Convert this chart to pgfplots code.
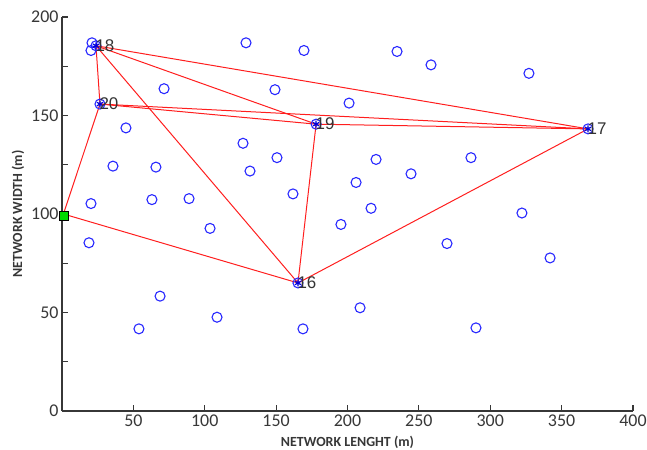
\documentclass[border=0pt]{standalone}
\usepackage{pgfplots}
\pgfplotsset{compat=1.18}
\usepackage{fontspec}
\setmainfont{Carlito}
\newfontfamily\arialfont{Liberation Sans}
\definecolor{axgray}{RGB}{55,55,55}
\definecolor{mblue}{RGB}{40,40,255}
\definecolor{lred}{RGB}{255,30,30}
\begin{document}
\begin{tikzpicture}
\useasboundingbox (-62bp,-39bp) rectangle (585bp,411bp);
\begin{axis}[
  at={(0,0)}, anchor=south west,
  width=571bp, height=394bp, scale only axis,
  xmin=0, xmax=400, ymin=0, ymax=200,
  axis lines*=left,
  axis line style={axgray, line width=1.3bp},
  every tick/.style={axgray, line width=1.1bp},
  tick align=inside,
  major tick length=6bp, minor tick length=6bp,
  xtick={50,100,...,400},
  ytick={0,50,...,200},
  minor ytick={25,75,125,175},
  /pgf/number format/assume math mode=true,
  ticklabel style={font=\fontsize{18}{20}\selectfont, text=axgray},
  xlabel={NETWORK LENGHT (m)},
  ylabel={NETWORK WIDTH (m)},
  label style={font=\fontsize{14}{16}\selectfont\bfseries, text=axgray},
  xlabel style={at={(axis description cs:0.5,-0.079)}, anchor=center},
  ylabel style={at={(axis description cs:-0.077,0.5)}, anchor=center},
  clip=false,
]
% ordinary sensor nodes
\addplot[only marks, mark=o, mark size=5bp, mblue, mark options={line width=1.1bp}] table {
x y
21.0 186.9
20.3 183.0
128.9 186.9
169.5 183.0
71.5 163.6
149.2 163.1
44.8 143.7
126.8 135.9
150.6 128.6
35.7 124.3
65.8 123.8
131.7 121.8
20.3 105.3
63.0 107.3
89.0 107.8
161.8 110.2
234.7 182.5
258.5 175.7
327.1 171.4
201.1 156.3
220.0 127.7
286.5 128.6
244.5 120.4
206.0 116.0
216.5 102.9
322.2 100.5
195.4 94.7
18.9 85.4
103.7 92.7
68.7 58.3
53.9 41.7
108.6 47.6
168.8 41.7
269.7 85.0
341.9 77.7
208.8 52.4
290.0 42.2
23.8 185.4
26.6 155.8
178.0 145.6
368.5 143.2
165.3 65.0
};
% links
\addplot[lred, line width=1bp] coordinates {(1,100) (26.6,155.8)};
\addplot[lred, line width=1bp] coordinates {(1,100) (165.3,65.0)};
\addplot[lred, line width=1bp] coordinates {(26.6,155.8) (23.8,185.4)};
\addplot[lred, line width=1bp] coordinates {(23.8,185.4) (368.5,143.2)};
\addplot[lred, line width=1bp] coordinates {(23.8,185.4) (178.0,145.6)};
\addplot[lred, line width=1bp] coordinates {(23.8,185.4) (165.3,65.0)};
\addplot[lred, line width=1bp] coordinates {(26.6,155.8) (178.0,145.6)};
\addplot[lred, line width=1bp] coordinates {(26.6,155.8) (368.5,143.2)};
\addplot[lred, line width=1bp] coordinates {(178.0,145.6) (368.5,143.2)};
\addplot[lred, line width=1bp] coordinates {(178.0,145.6) (165.3,65.0)};
\addplot[lred, line width=1bp] coordinates {(165.3,65.0) (368.5,143.2)};
% cluster heads
\addplot[only marks, mark=asterisk, mark size=3.5bp, blue!85!black, mark options={line width=1.2bp},
  nodes near coords, point meta=explicit symbolic,
  every node near coord/.append style={anchor=west, inner sep=0pt, xshift=-1bp, scale=1,
    font=\arialfont\fontsize{17}{19}\selectfont, text=black!80}]
  table[meta=label] {
x y label
165.3 65.0 16
368.5 143.2 17
23.8 185.4 18
178.0 145.6 19
26.6 155.8 20
};
% base station
\addplot[only marks, mark=square*, mark size=4.5bp, mark options={fill=green!85!black, draw=black, line width=1bp}] coordinates {(1.4,99)};
\end{axis}
\end{tikzpicture}
\end{document}
